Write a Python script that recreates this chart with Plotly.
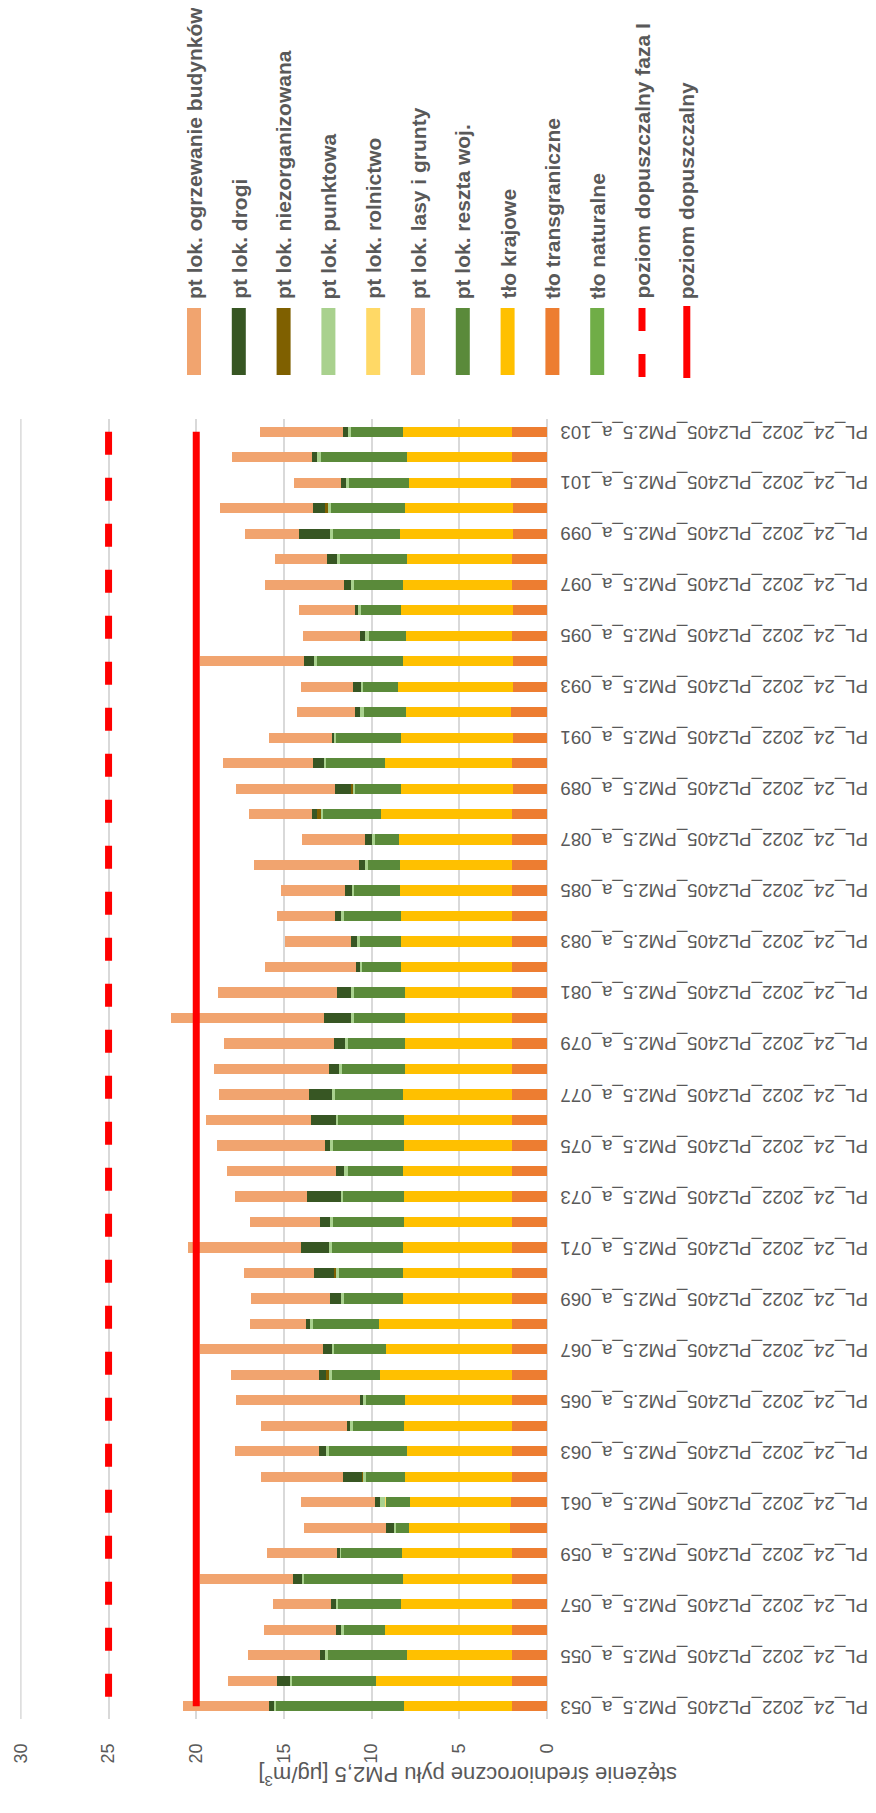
import plotly.graph_objects as go

site_numbers = ['053', '054', '055', '056', '057', '058', '059', '060', '061', '062',
                '063', '064', '065', '066', '067', '068', '069', '070', '071', '072',
                '073', '074', '075', '076', '077', '078', '079', '080', '081', '082',
                '083', '084', '085', '086', '087', '088', '089', '090', '091', '092',
                '093', '094', '095', '096', '097', '098', '099', '100', '101', '102', '103']
categories = ['PL_24_2022_PL2405_PM2.5_a_' + n for n in site_numbers]

tlo_naturalne = [0.0] * 51
tlo_transgraniczne = [2.00, 1.97, 1.97, 2.01, 1.97, 1.97, 1.97, 2.12, 2.07, 2.01,
                      1.97, 2.01, 1.99, 1.97, 1.97, 1.97, 1.99, 1.99, 1.97, 1.97,
                      1.97, 1.97, 1.97, 1.97, 1.97, 1.97, 1.97, 1.97, 1.97, 1.97,
                      1.97, 1.97, 1.97, 1.97, 1.97, 1.99, 1.95, 1.97, 1.95, 2.03,
                      1.95, 1.95, 2.01, 1.95, 2.01, 2.01, 1.95, 1.95, 2.07, 1.97, 2.01]
tlo_krajowe = [6.16, 7.77, 5.99, 7.22, 6.33, 6.24, 6.31, 5.73, 5.76, 6.07,
               5.99, 6.12, 6.12, 7.58, 7.21, 7.60, 6.22, 6.22, 6.22, 6.16,
               6.18, 6.22, 6.20, 6.18, 6.22, 6.12, 6.14, 6.14, 6.14, 6.35,
               6.35, 6.37, 6.41, 6.41, 6.47, 7.47, 6.35, 7.28, 6.39, 6.03,
               6.56, 6.24, 6.05, 6.37, 6.18, 5.97, 6.43, 6.14, 5.80, 6.01, 6.18]
reszta_woj = [7.27, 4.80, 4.53, 2.37, 3.62, 5.67, 3.49, 0.78, 1.36, 2.23,
              4.49, 2.94, 2.20, 2.70, 2.97, 3.76, 3.34, 3.64, 4.06, 4.08,
              3.49, 3.17, 4.04, 3.77, 3.90, 3.61, 3.25, 2.89, 2.89, 2.26,
              2.35, 3.26, 2.63, 1.84, 1.42, 3.32, 2.70, 3.34, 3.70, 2.37,
              1.97, 4.93, 2.08, 2.28, 2.81, 3.81, 3.83, 4.21, 3.41, 4.93, 2.98]
lasy_grunty = [0.0] * 51
rolnictwo = [0.0, 0.0, 0.0, 0.0, 0.0, 0.0, 0.0, 0.0, 0.05, 0.0,
             0.0, 0.0, 0.0, 0.0, 0.0, 0.0, 0.0, 0.0, 0.0, 0.0,
             0.0, 0.0, 0.0, 0.0, 0.0, 0.0, 0.0, 0.0, 0.0, 0.0,
             0.0, 0.0, 0.0, 0.0, 0.0, 0.0, 0.0, 0.0, 0.0, 0.0,
             0.0, 0.0, 0.0, 0.0, 0.0, 0.0, 0.0, 0.0, 0.0, 0.0, 0.0]
punktowa = [0.13, 0.13, 0.15, 0.15, 0.10, 0.09, 0.08, 0.07, 0.28, 0.19,
            0.16, 0.17, 0.17, 0.17, 0.12, 0.17, 0.18, 0.19, 0.17, 0.19,
            0.13, 0.24, 0.15, 0.12, 0.19, 0.15, 0.15, 0.17, 0.20, 0.11,
            0.15, 0.12, 0.12, 0.13, 0.11, 0.13, 0.11, 0.15, 0.09, 0.21,
            0.12, 0.17, 0.23, 0.17, 0.18, 0.19, 0.15, 0.19, 0.19, 0.19, 0.19]
niezorganizowana = [0.0, 0.0, 0.0, 0.0, 0.0, 0.0, 0.0, 0.0, 0.0, 0.06,
                    0.0, 0.0, 0.0, 0.21, 0.0, 0.0, 0.0, 0.09, 0.0, 0.0,
                    0.0, 0.0, 0.0, 0.0, 0.0, 0.0, 0.0, 0.0, 0.0, 0.0,
                    0.0, 0.0, 0.0, 0.0, 0.0, 0.21, 0.09, 0.0, 0.0, 0.0,
                    0.0, 0.0, 0.0, 0.0, 0.0, 0.0, 0.0, 0.15, 0.0, 0.0, 0.0]
drogi = [0.31, 0.70, 0.31, 0.27, 0.30, 0.49, 0.11, 0.48, 0.28, 1.10,
         0.38, 0.17, 0.17, 0.39, 0.51, 0.26, 0.65, 1.14, 1.59, 0.53,
         1.90, 0.42, 0.28, 1.40, 1.27, 0.57, 0.62, 1.53, 0.80, 0.19,
         0.36, 0.36, 0.38, 0.36, 0.40, 0.26, 0.91, 0.63, 0.14, 0.30,
         0.45, 0.55, 0.28, 0.17, 0.40, 0.55, 1.76, 0.69, 0.26, 0.28, 0.28]
ogrzewanie = [4.86, 2.83, 4.09, 4.09, 3.32, 5.33, 4.02, 4.66, 4.21, 4.64,
              4.81, 4.89, 7.08, 5.01, 7.01, 3.15, 4.51, 4.00, 6.44, 3.98,
              4.13, 6.20, 6.15, 5.99, 5.16, 6.54, 6.28, 8.72, 6.77, 5.21,
              3.78, 3.29, 3.64, 5.99, 3.60, 3.61, 5.60, 5.09, 3.60, 3.30,
              3.00, 5.95, 3.28, 3.22, 4.51, 2.96, 3.11, 5.32, 2.68, 4.61, 4.74]

poziom_dopuszczalny = 20
poziom_faza_1 = 25

value_ticks = [0, 5, 10, 15, 20, 25, 30]

# stacking order from the axis outwards
stack = [
    ('tło naturalne', tlo_naturalne, '#70AD47'),
    ('tło transgraniczne', tlo_transgraniczne, '#ED7D31'),
    ('tło krajowe', tlo_krajowe, '#FFC000'),
    ('pt lok. reszta woj.', reszta_woj, '#5A8A3A'),
    ('pt lok. lasy i grunty', lasy_grunty, '#F4B183'),
    ('pt lok. rolnictwo', rolnictwo, '#FFD966'),
    ('pt lok. punktowa', punktowa, '#A9D18E'),
    ('pt lok. niezorganizowana', niezorganizowana, '#7F6000'),
    ('pt lok. drogi', drogi, '#375623'),
    ('pt lok. ogrzewanie budynków', ogrzewanie, '#F1A46F'),
]

# legend order as in the reference (left to right)
legend_items = [
    ('pt lok. ogrzewanie budynków', '#F1A46F', 'box'),
    ('pt lok. drogi', '#375623', 'box'),
    ('pt lok. niezorganizowana', '#7F6000', 'box'),
    ('pt lok. punktowa', '#A9D18E', 'box'),
    ('pt lok. rolnictwo', '#FFD966', 'box'),
    ('pt lok. lasy i grunty', '#F4B183', 'box'),
    ('pt lok. reszta woj.', '#5A8A3A', 'box'),
    ('tło krajowe', '#FFC000', 'box'),
    ('tło transgraniczne', '#ED7D31', 'box'),
    ('tło naturalne', '#70AD47', 'box'),
    ('poziom dopuszczalny faza I', '#FF0000', 'dash'),
    ('poziom dopuszczalny', '#FF0000', 'line'),
]

FONT = 'Liberation Sans'
GREY = '#595959'

# the page body has an 8px margin, so the figure is made smaller and everything
# below is measured in page pixels (plot area 20..547 x 419..1719)
OFF = 8
W, H = 876 - OFF, 1813 - OFF
PLOT_L, PLOT_R, PLOT_T, PLOT_B = 20, 547, 419, 1719
PW = PLOT_R - PLOT_L
PH = PLOT_B - PLOT_T


def px(x):
    return (x - PLOT_L) / PW


def py(y):
    return (PLOT_B - y) / PH


fig = go.Figure()
for name, values, color in stack:
    fig.add_trace(go.Bar(y=categories, x=values, name=name, orientation='h',
                         marker=dict(color=color, line=dict(width=0))))

# limit lines drawn from the last site down to the first
fig.add_trace(go.Scatter(y=categories[::-1], x=[poziom_faza_1] * len(categories), mode='lines',
                         name='poziom dopuszczalny faza I',
                         line=dict(color='#FF0000', width=7, dash='23px,23px')))
fig.add_trace(go.Scatter(y=categories[::-1], x=[poziom_dopuszczalny] * len(categories), mode='lines',
                         name='poziom dopuszczalny', line=dict(color='#FF0000', width=7)))

annotations = []
shapes = []

# category labels, every second site, upside down like the source
for cat in categories[::2]:
    annotations.append(dict(text=cat, x=1, xref='paper', xanchor='left', xshift=11,
                            y=cat, yref='y', yanchor='middle', textangle=180, showarrow=False,
                            font=dict(family=FONT, size=18.7, color=GREY)))

# value axis title
annotations.append(dict(text='stężenie średnioroczne pyłu PM2,5 [μg/m<sup>3</sup>]',
                        x=px(468), xref='paper', y=py(1776), yref='paper',
                        xanchor='center', yanchor='middle', textangle=180, showarrow=False,
                        font=dict(family=FONT, size=22, color=GREY)))

# gridline at the far end of the value axis
shapes.append(dict(type='line', xref='x', yref='paper', x0=30, x1=30, y0=0, y1=1,
                   line=dict(color='#D9D9D9', width=1.5), layer='below'))

# hand made legend (rotated text)
for i, (name, color, kind) in enumerate(legend_items):
    cx = 194 + i * 44.8
    annotations.append(dict(text='<b>' + name + '</b>', x=px(cx), xref='paper', y=py(301), yref='paper',
                            xanchor='center', yanchor='bottom', textangle=-90, showarrow=False,
                            font=dict(family=FONT, size=21, color=GREY)))
    if kind == 'box':
        shapes.append(dict(type='rect', xref='paper', yref='paper', x0=px(cx - 7), x1=px(cx + 7),
                           y0=py(375), y1=py(308), fillcolor=color, line=dict(width=0)))
    elif kind == 'dash':
        for y0, y1 in [(308, 331), (354, 377)]:
            shapes.append(dict(type='rect', xref='paper', yref='paper', x0=px(cx - 3.5), x1=px(cx + 3.5),
                               y0=py(y1), y1=py(y0), fillcolor=color, line=dict(width=0)))
    else:
        shapes.append(dict(type='rect', xref='paper', yref='paper', x0=px(cx - 3.5), x1=px(cx + 3.5),
                           y0=py(378), y1=py(306), fillcolor=color, line=dict(width=0)))

fig.update_layout(
    width=W, height=H,
    margin=dict(l=PLOT_L - OFF, r=W - (PLOT_R - OFF), t=PLOT_T - OFF, b=H - (PLOT_B - OFF)),
    barmode='stack', bargap=0.6,
    showlegend=False,
    plot_bgcolor='white', paper_bgcolor='white',
    font=dict(family=FONT, color=GREY),
    annotations=annotations, shapes=shapes,
)
fig.update_xaxes(range=[30.05, 0], tickvals=value_ticks, tickangle=-90,
                 tickfont=dict(family=FONT, size=18, color=GREY),
                 showgrid=True, gridcolor='#D9D9D9', gridwidth=1.5,
                 zeroline=True, zerolinecolor='#D9D9D9', zerolinewidth=1.5,
                 ticks='', ticklabelstandoff=20, showline=False, automargin=False)
fig.update_yaxes(type='category', range=[-0.5, len(categories) - 0.5], showticklabels=False,
                 showgrid=False, ticks='', showline=False, zeroline=False, automargin=False)

fig.write_html("out.html")
